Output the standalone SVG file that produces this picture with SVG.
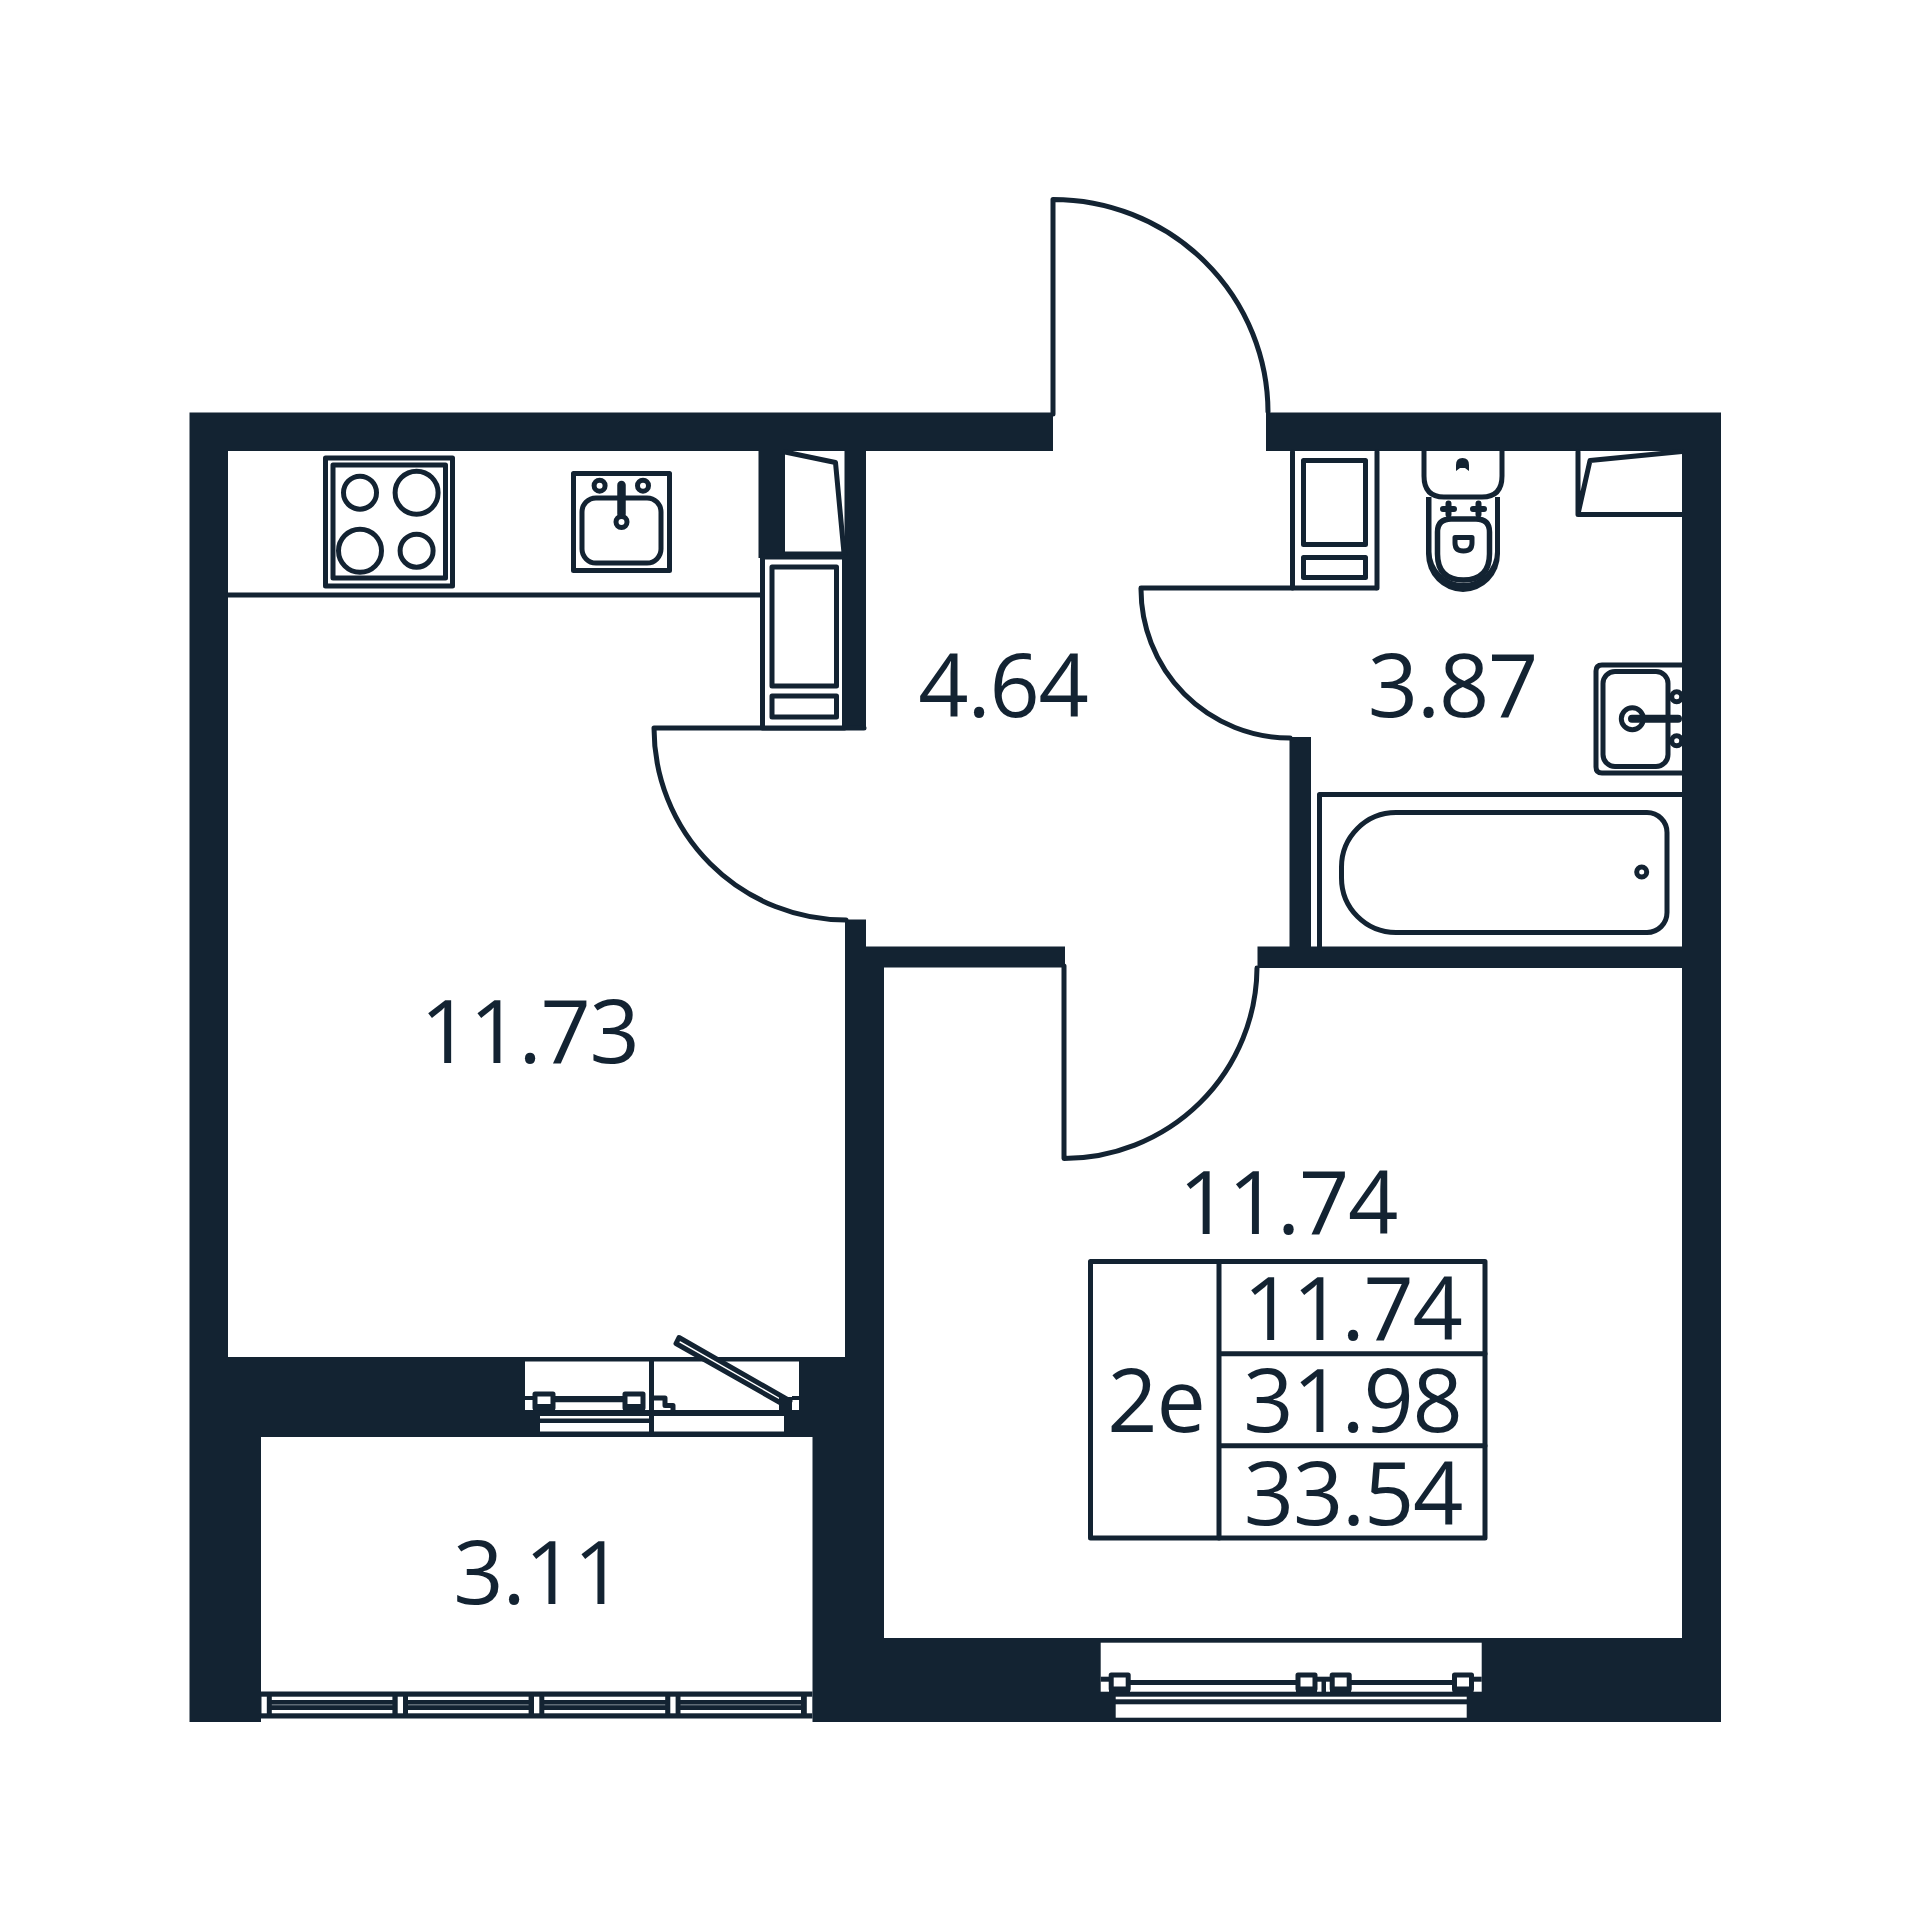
<svg xmlns="http://www.w3.org/2000/svg" width="1920" height="1920" viewBox="0 0 1920 1920">
<style>
.w{fill:#132332}
.bg{fill:#fff}
.l{fill:none;stroke:#132332;stroke-width:5;stroke-linejoin:round;stroke-linecap:round}
.f{fill:#fff;stroke:#132332;stroke-width:5;stroke-linejoin:round}
.t{font-family:"Open Sans","Noto Sans",sans-serif;font-size:88px;fill:#132332;text-anchor:middle;letter-spacing:-1.2px}
</style>
<rect class="bg" width="1920" height="1920"/>
<path id="walls" class="w" d="M189.500 412.500H1053V451H189.500ZM1266 412.500H1721V451H1266ZM189.500 412.500H228V1357H189.500ZM1682 412.500H1721V1722H1682ZM189.500 1357H884V1437H189.500ZM189.500 1357H261V1722H189.500ZM845 919.500H866V967H845ZM845 967H884V1440H845ZM845 946.500H1065V967.500H845ZM1257.500 946.500H1687V968H1257.500ZM1289.500 737H1311V952H1289.500ZM812.500 1437H884V1722H812.500ZM812.500 1638H1721V1722H812.500ZM758.500 451H785V558H758.500ZM844.500 451H866V730H844.500Z"/>
<g id="door-entrance"><path class="l" d="M1053 414V199.500A215 213 0 0 1 1268 412"/></g>
<g id="door-kitchen"><path class="l" d="M864 728H654A192 192 0 0 0 846 920"/></g>
<g id="door-bath"><path class="l" d="M1376 588H1141A149 149 0 0 0 1290 738"/></g>
<g id="door-room"><path class="l" d="M1064 966V1158.500A193 192 0 0 0 1257 968"/></g>
<g id="kitchen-line"><path class="l" d="M228 595H760"/></g>
<g id="shaft-kitchen">
<path class="l" d="M785 452L835.500 462.500L844 553M785 554H845"/>
</g>
<g id="cupboard-kitchen">
<rect class="f" x="762.500" y="557" width="82" height="171"/>
<rect class="l" x="772" y="567" width="64.500" height="119"/>
<rect class="l" x="772" y="696" width="64.500" height="21"/>
</g>
<g id="stove">
<rect class="l" x="325.500" y="458" width="127" height="128"/>
<rect class="l" x="333" y="465" width="112.500" height="113"/>
<circle class="l" cx="360" cy="492.700" r="16.500"/>
<circle class="l" cx="416.600" cy="492.700" r="21.500"/>
<circle class="l" cx="360" cy="550.700" r="21.500"/>
<circle class="l" cx="416.600" cy="550.700" r="16.500"/>
</g>
<g id="kitchen-sink">
<rect class="l" x="573.500" y="473.500" width="96" height="97"/>
<rect class="l" x="582" y="498" width="79" height="65" rx="14"/>
<circle class="l" cx="599.600" cy="485.700" r="5.500"/>
<circle class="l" cx="643" cy="485.700" r="5.500"/>
<path d="M621.500 485V514" stroke="#132332" stroke-width="8.500" stroke-linecap="round" fill="none"/>
<circle class="f" cx="621.500" cy="522" r="5.500"/>
</g>
<g id="cupboard-bath">
<path class="l" d="M1292.500 452V588M1377 452V588"/>
<rect class="l" x="1303.500" y="460.500" width="62" height="84"/>
<rect class="l" x="1303.500" y="557.500" width="62" height="20"/>
</g>
<g id="toilet">
<path class="w" d="M1426 497V554A37 38 0 0 0 1500 554V497Z"/>
<path class="bg" d="M1431.500 497V552A31.750 31 0 0 0 1495 552V497Z"/>
<path d="M1437.500 532Q1437.500 519 1451 519H1476Q1489.500 519 1489.500 532V554Q1489.500 580 1463.500 580Q1437.500 580 1437.500 554Z" fill="#fff" stroke="#132332" stroke-width="5.500"/>
<path class="f" d="M1424 451V476Q1424 497 1444 497H1482Q1502 497 1502 476V451"/>
<path d="M1443 509H1454M1448.500 503.500V514.500M1473 509H1484M1478.500 503.500V514.500" fill="none" stroke="#132332" stroke-width="6" stroke-linecap="round"/>
<path class="l" d="M1455 537.500H1472V543Q1472 551 1463.500 551Q1455 551 1455 543Z"/>
<path d="M1456 471V465Q1456 458 1462.500 458Q1469 458 1469 465V471L1465 468H1460Z" class="w"/>
</g>
<g id="shaft-bath">
<path class="l" d="M1578 452V514.500H1682M1578 514L1590 460.500L1682 451.500"/>
</g>
<g id="bath-sink">
<path class="l" d="M1682 665H1602Q1596 665 1596 671V767Q1596 773 1602 773H1682"/>
<rect class="l" x="1603" y="671.500" width="65" height="95" rx="12"/>
<circle class="f" cx="1676.700" cy="696.700" r="5"/>
<circle class="f" cx="1676.700" cy="740.700" r="5"/>
<rect class="w" x="1682" y="688" width="6" height="60"/>
<circle class="l" cx="1632.300" cy="718.700" r="11"/>
<path d="M1632 718.700H1678" stroke="#132332" stroke-width="8" stroke-linecap="round" fill="none"/>
</g>
<g id="bathtub">
<path class="l" d="M1319.500 947V794.500H1682"/>
<path class="l" d="M1396 812.500H1647A20 20 0 0 1 1667 832.500V912.500A20 20 0 0 1 1647 932.500H1396A54.500 54.500 0 0 1 1341.500 878V867A54.500 54.500 0 0 1 1396 812.500Z"/>
<circle class="l" cx="1641.700" cy="872" r="5" stroke-width="4"/>
</g>
<g id="window-kitchen">
<rect class="bg" x="525" y="1361.500" width="274" height="48.500"/>
<rect class="bg" x="540" y="1423" width="109" height="8.500"/>
<rect class="bg" x="540" y="1416" width="109" height="2.500"/>
<rect class="bg" x="654" y="1416" width="130" height="15.500"/>
<rect class="w" x="649" y="1361" width="5" height="76"/>
<rect class="w" x="525" y="1396" width="120" height="4"/>
<rect class="w" x="525" y="1410" width="274" height="6"/>
<rect class="w" x="555" y="1399" width="68" height="3.500"/>
<rect class="bg" x="525" y="1400" width="8" height="10"/>
<rect class="bg" x="555" y="1402.500" width="68" height="7.500"/>
<rect class="f" x="535" y="1394" width="18" height="14"/>
<rect class="f" x="625" y="1394" width="18" height="14"/>
<rect class="w" x="533" y="1404" width="22" height="6"/>
<rect class="w" x="623" y="1404" width="22" height="6"/>
<path class="l" d="M654 1398H665V1405.500H673V1411"/>
<path class="f" d="M679 1337.500L790 1401L787 1406.500L676 1343.500Z"/>
<rect class="w" x="779" y="1397" width="13" height="13"/>
<rect class="w" x="792" y="1396" width="7" height="4"/>
</g>
<g id="window-room">
<rect class="bg" x="1100.700" y="1642.700" width="381" height="49"/>
<rect class="w" x="1100.700" y="1676.700" width="9" height="5"/>
<rect class="w" x="1474" y="1676.700" width="7.700" height="5"/>
<rect class="w" x="1130" y="1680" width="166" height="5"/>
<rect class="w" x="1351" y="1680" width="102" height="5"/>
<rect class="w" x="1317" y="1676.700" width="14" height="5"/>
<rect class="w" x="1321.500" y="1681" width="4.500" height="11"/>
<rect class="f" x="1111.200" y="1675" width="17" height="14"/>
<rect class="f" x="1298" y="1675" width="17" height="14"/>
<rect class="f" x="1332.200" y="1675" width="17" height="14"/>
<rect class="f" x="1454.500" y="1675" width="17" height="14"/>
<rect class="w" x="1109" y="1687.500" width="21" height="5"/>
<rect class="w" x="1296" y="1687.500" width="21" height="5"/>
<rect class="w" x="1330" y="1687.500" width="21" height="5"/>
<rect class="w" x="1452.500" y="1687.500" width="21" height="5"/>
<rect class="bg" x="1115.700" y="1696.700" width="351" height="2.600"/>
<rect class="bg" x="1115.700" y="1704.300" width="351" height="13.400"/>
</g>
<g id="window-balcony">
<rect class="w" x="261" y="1691.500" width="551.500" height="27"/>
<rect class="bg" x="261.500" y="1696.700" width="5.300" height="16.600"/>
<rect class="bg" x="397.700" y="1696.700" width="5.300" height="16.600"/>
<rect class="bg" x="534" y="1696.700" width="5.300" height="16.600"/>
<rect class="bg" x="670.300" y="1696.700" width="5.300" height="16.600"/>
<rect class="bg" x="806.800" y="1696.700" width="5.300" height="16.600"/>
<g fill="#fff">
<rect x="271.800" y="1696.700" width="120.600" height="3.300"/><rect x="271.800" y="1710" width="120.600" height="3.300"/>
<rect x="408" y="1696.700" width="120.600" height="3.300"/><rect x="408" y="1710" width="120.600" height="3.300"/>
<rect x="544.300" y="1696.700" width="120.900" height="3.300"/><rect x="544.300" y="1710" width="120.900" height="3.300"/>
<rect x="680.500" y="1696.700" width="120.500" height="3.300"/><rect x="680.500" y="1710" width="120.500" height="3.300"/>
</g>
<g fill="#5f6b75">
<rect x="271.800" y="1704" width="120.600" height="1.500"/>
<rect x="408" y="1704" width="120.600" height="1.500"/>
<rect x="544.300" y="1704" width="120.900" height="1.500"/>
<rect x="680.500" y="1704" width="120.500" height="1.500"/>
</g>
</g>
<g id="table">
<rect class="l" x="1090.500" y="1261.500" width="394.500" height="276.500"/>
<path class="l" d="M1219 1261.500V1538M1219 1353.700H1485M1219 1445.700H1485"/>
</g>
<g id="labels">
<text class="t" x="1003" y="717">4.64</text>
<text class="t" x="1452.500" y="716.700">3.87</text>
<text class="t" x="529.500" y="1063">11.73</text>
<text class="t" x="1288" y="1234">11.74</text>
<text class="t" x="538" y="1604">3.11</text>
<text class="t" x="1352.500" y="1340">11.74</text>
<text class="t" x="1352.500" y="1432.300">31.98</text>
<text class="t" x="1353" y="1525">33.54</text>
<text class="t" x="1156" y="1431.700">2e</text>
</g>
</svg>
